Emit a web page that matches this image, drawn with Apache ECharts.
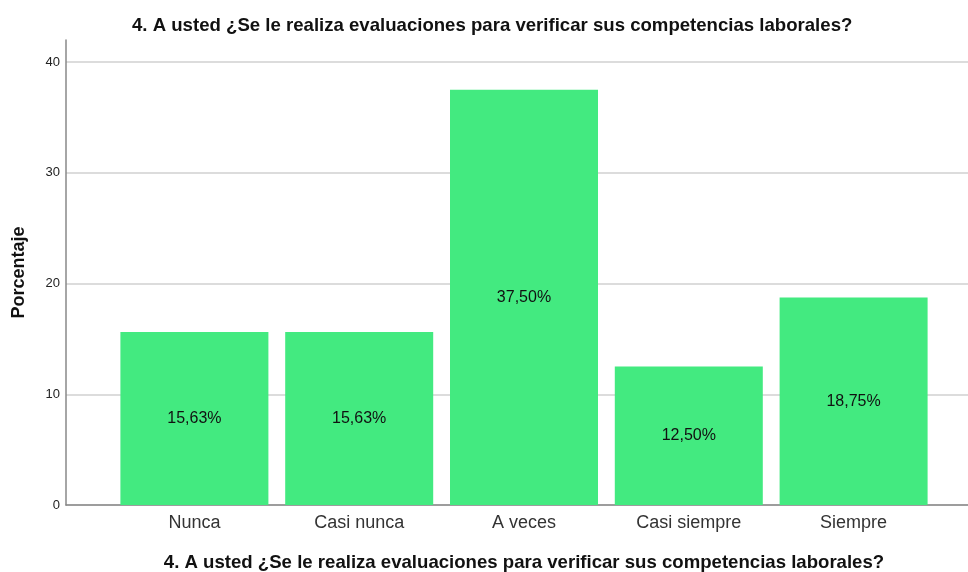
<!DOCTYPE html>
<html>
<head>
<meta charset="utf-8">
<title>Evaluaciones de competencias</title>
<script src="https://cdn.jsdelivr.net/npm/echarts@6/dist/echarts.min.js"></script>
<style>
  html, body { margin: 0; padding: 0; background: #fff; }
  #main { width: 968px; height: 572px; }
</style>
</head>
<body>
<div id="main"></div>
<script type="text/javascript">
    // datos
    var categorias = ['Nunca', 'Casi nunca', 'A veces', 'Casi siempre', 'Siempre'];
    var porcentajes = [15.63, 15.63, 37.50, 12.50, 18.75];
    var titulo = '4. A usted ¿Se le realiza evaluaciones para verificar sus competencias laborales?';

    var fuente = '"Liberation Sans", Arial, sans-serif';
    var myChart = echarts.init(document.getElementById('main'));

    var option = {
        animation: false,
        title: {
            text: titulo,
            left: 127,
            top: 11,
            textStyle: { fontFamily: fuente, fontSize: 18.6, fontWeight: 'bold', color: '#111' }
        },
        grid: [
            // rejilla completa: lineas de division y etiquetas del eje Y
            { left: 66, right: 0, top: 62, bottom: 67, outerBoundsMode: 'none', containLabel: false },
            // rejilla de las barras
            { left: 112, right: 32, top: 40, bottom: 67, outerBoundsMode: 'none', containLabel: false }
        ],
        xAxis: [
            {
                gridIndex: 0, type: 'value', min: 0, max: 1,
                axisLine: { show: true, lineStyle: { color: '#888', width: 1.5 } },
                axisTick: { show: false }, axisLabel: { show: false }, splitLine: { show: false }
            },
            {
                gridIndex: 1, type: 'category', data: categorias,
                axisLine: { show: false }, axisTick: { show: false },
                axisLabel: { margin: 9, fontFamily: fuente, fontSize: 18, color: '#333' },
                name: titulo, nameLocation: 'middle', nameGap: 48,
                nameTextStyle: { fontFamily: fuente, fontSize: 18.6, fontWeight: 'bold', color: '#111' }
            }
        ],
        yAxis: [
            {
                gridIndex: 0, type: 'value', min: 0, max: 40, interval: 10,
                axisLine: { show: false }, axisTick: { show: false },
                axisLabel: { margin: 6, fontFamily: fuente, fontSize: 13, color: '#222' },
                splitLine: { show: true, lineStyle: { color: '#d0d0d0', width: 1.5 } }
            },
            {
                gridIndex: 1, type: 'value', min: 0, max: 42, offset: 46,
                axisLine: { show: true, lineStyle: { color: '#888', width: 1.5 } },
                axisTick: { show: false }, axisLabel: { show: false }, splitLine: { show: false },
                name: 'Porcentaje', nameLocation: 'middle', nameGap: 38,
                nameTextStyle: { fontFamily: fuente, fontSize: 18, fontWeight: 'bold', color: '#111' }
            }
        ],
        series: [
            {
                type: 'bar',
                xAxisIndex: 1,
                yAxisIndex: 1,
                data: porcentajes,
                barWidth: 148,
                itemStyle: { color: '#43ea80' },
                label: {
                    show: true,
                    position: 'inside',
                    fontFamily: fuente,
                    fontSize: 16,
                    color: '#111',
                    formatter: function (p) {
                        return p.value.toFixed(2).replace('.', ',') + '%';
                    }
                }
            }
        ]
    };
    myChart.setOption(option);
</script>
</body>
</html>
